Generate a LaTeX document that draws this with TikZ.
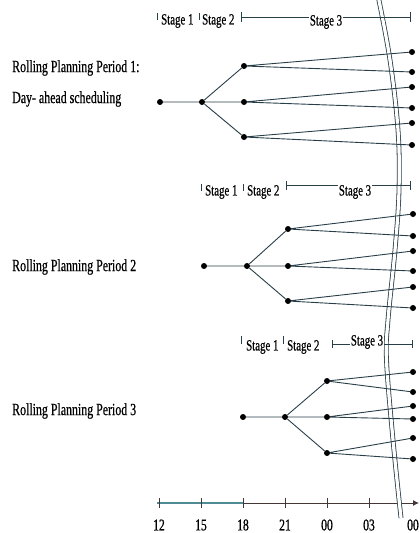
\documentclass[tikz,border=0pt]{standalone}
\usepackage{fontspec}
\setmainfont[FakeStretch=0.7,FakeBold=0.6]{Liberation Serif}
\usetikzlibrary{arrows.meta}
\definecolor{edgec}{RGB}{40,62,72}
\definecolor{axteal}{RGB}{80,140,150}
\definecolor{axdark}{RGB}{70,55,55}
\tikzset{
  dot/.style={circle,fill=black,inner sep=0pt,minimum size=6pt},
  edge/.style={draw=edgec,line width=0.9pt},
  lbl/.style={anchor=west,inner sep=0pt,font=\fontsize{17}{19}\selectfont},
  stg/.style={inner sep=0pt,font=\fontsize{15.5}{17}\selectfont},
  stg3/.style={inner sep=1pt,fill=white,font=\fontsize{15.5}{17}\selectfont},
  tk/.style={draw=edgec,line width=0.7pt},
  axlbl/.style={inner sep=0pt,font=\fontsize{16.5}{18}\selectfont},
}
\begin{document}
\begin{tikzpicture}[x=1pt,y=-1pt]
\useasboundingbox (0,0) rectangle (420,533);
% ================= Time axis =================
\coordinate (ax0) at (157,503);
\coordinate (ax18) at (243,503);
\coordinate (ax1) at (419,503);
\draw[axdark,line width=0.9pt,-{Latex[length=6pt,width=6pt]}] (ax18) -- (ax1);
\draw[axteal,line width=1.1pt] (ax0) -- (ax18);
\foreach \x/\t [count=\i] in {159/12,201/15,243/18,285/21,327/00,369/03} {
  \draw[axdark,line width=0.7pt] (\x,498) -- (\x,508);
  \node[axlbl] (t\i) at (\x,525) {\t};
}
\node[axlbl] (t7) at (413,525) {00};
% ---------- curved break line ----------
\draw[edgec,line width=0.8pt,double=white,double distance=3.2pt]
  plot[smooth,tension=0.6] coordinates {(378.5,-2) (390,60) (398,130) (399,190) (395,250) (388,320) (386.5,360) (393,440) (401,518)};
% ================= Period 1 =================
\node[lbl] (l1a) at (12,68) {Rolling Planning Period 1:};
\node[lbl] (l1b) at (12,99) {Day- ahead scheduling};
% header
\draw[tk] (157,13) -- (157,20);
\node[stg,anchor=west] (s11) at (161,21) {Stage 1};
\draw[tk] (199.5,13) -- (199.5,20);
\node[stg,anchor=west] (s12) at (202,21) {Stage 2};
\draw[tk] (241,12) -- (241,22);
\draw[tk] (410,12) -- (410,22);
\coordinate (h1a) at (241,17);
\coordinate (h1b) at (410,17);
\draw[tk] (h1a) -- (h1b);
\node[stg3] (s13) at (326,22) {Stage 3};
% tree
\node[dot] (a0) at (160,102) {};
\node[dot] (a1) at (202,102) {};
\node[dot] (a2) at (244,66) {};
\node[dot] (a3) at (244,102) {};
\node[dot] (a4) at (244,137) {};
\node[dot] (a5) at (412,52) {};
\node[dot] (a6) at (412,72) {};
\node[dot] (a7) at (412,87) {};
\node[dot] (a8) at (412,108) {};
\node[dot] (a9) at (412,123) {};
\node[dot] (a10) at (412,145) {};
\draw[edge] (a0)--(a1) (a1)--(a2) (a1)--(a3) (a1)--(a4)
  (a2)--(a5) (a2)--(a6) (a3)--(a7) (a3)--(a8) (a4)--(a9) (a4)--(a10);
% ================= Period 2 =================
\node[lbl] (l2) at (12,267) {Rolling Planning Period 2};
\draw[tk] (201.7,184) -- (201.7,191);
\node[stg,anchor=west] (s21) at (205,192) {Stage 1};
\draw[tk] (243,184) -- (243,191);
\node[stg,anchor=west] (s22) at (247,192) {Stage 2};
\draw[tk] (286,181) -- (286,190);
\draw[tk] (410.5,181) -- (410.5,190);
\coordinate (h2a) at (286,185.5);
\coordinate (h2b) at (410.5,185.5);
\draw[tk] (h2a) -- (h2b);
\node[stg3] (s23) at (355,192) {Stage 3};
\node[dot] (b0) at (204,266) {};
\node[dot] (b1) at (247,266) {};
\node[dot] (b2) at (288,229) {};
\node[dot] (b3) at (288,266) {};
\node[dot] (b4) at (288,301) {};
\node[dot] (b5) at (413,214) {};
\node[dot] (b6) at (413,236) {};
\node[dot] (b7) at (413,251) {};
\node[dot] (b8) at (413,271) {};
\node[dot] (b9) at (413,287) {};
\node[dot] (b10) at (413,308) {};
\draw[edge] (b0)--(b1) (b1)--(b2) (b1)--(b3) (b1)--(b4)
  (b2)--(b5) (b2)--(b6) (b3)--(b7) (b3)--(b8) (b4)--(b9) (b4)--(b10);
% ================= Period 3 =================
\node[lbl] (l3) at (12,411) {Rolling Planning Period 3};
\draw[tk] (241,336) -- (241,344);
\node[stg,anchor=west] (s31) at (246,347) {Stage 1};
\draw[tk] (283,336) -- (283,344);
\node[stg,anchor=west] (s32) at (287,347) {Stage 2};
\draw[tk] (332,340) -- (332,348);
\draw[tk] (412,340) -- (412,348);
\coordinate (h3a) at (332,344);
\coordinate (h3b) at (412,344);
\draw[tk] (h3a) -- (h3b);
\node[stg3] (s33) at (367,342) {Stage 3};
\node[dot] (c0) at (243,417) {};
\node[dot] (c1) at (285,417) {};
\node[dot] (c2) at (327,381) {};
\node[dot] (c3) at (327,417) {};
\node[dot] (c4) at (327,453) {};
\node[dot] (c5) at (413,372) {};
\node[dot] (c6) at (413,392) {};
\node[dot] (c7) at (413,406) {};
\node[dot] (c8) at (413,419) {};
\node[dot] (c9) at (413,438) {};
\node[dot] (c10) at (413,459) {};
\draw[edge] (c0)--(c1) (c1)--(c2) (c1)--(c3) (c1)--(c4)
  (c2)--(c5) (c2)--(c6) (c3)--(c7) (c3)--(c8) (c4)--(c9) (c4)--(c10);
\end{tikzpicture}
\end{document}
